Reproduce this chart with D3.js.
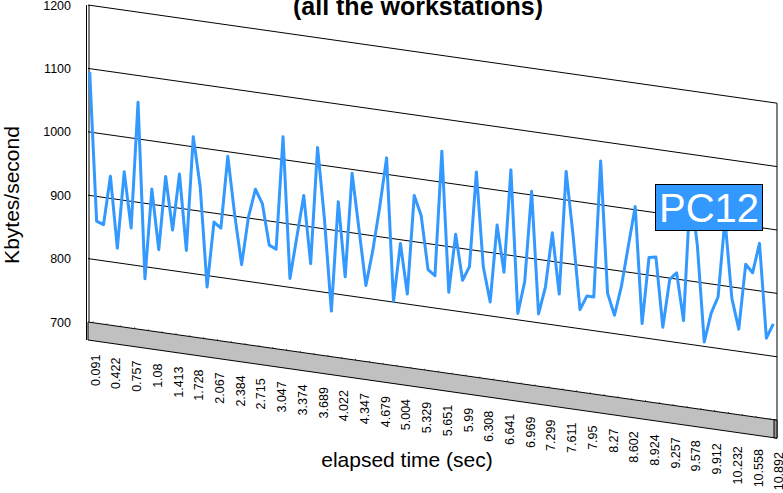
<!DOCTYPE html>
<html lang="en">
  <head>
    <meta charset="utf-8">
    <title>PC12 - Kbytes/second</title>
    <script src="https://d3js.org/d3.v7.min.js"></script>
    <style>
      body { margin: 0; background: #fff; }
      svg { display: block; font-family: Arial, "Liberation Sans", sans-serif; }
    </style>
  </head>
  <body>
    <div id="here"></div>
    <script>
      // Kbytes/second for every sample
      var kbytes = [1095, 861, 857, 935, 823, 945, 858, 1058, 781, 924,
                    830, 947, 864, 954, 835, 1016, 939, 782, 886, 878,
                    993, 902, 825, 902, 947, 926, 862, 857, 1036, 814,
                    881, 948, 842, 1027, 915, 772, 946, 829, 994, 907,
                    820, 877, 947, 1026, 801, 894, 816, 973, 943, 859,
                    851, 1049, 828, 921, 850, 873, 1024, 876, 822, 945,
                    872, 1035, 810, 862, 1006, 814, 858, 945, 850, 1045,
                    946, 830, 853, 853, 1069, 862, 829, 876, 941, 1005,
                    822, 928, 930, 821, 898, 910, 836, 1045, 958, 807,
                    854, 881, 1005, 882, 835, 939, 927, 975, 827, 851];

      // elapsed time labels, one every 3 samples
      var timeLabels = ["0.091", "0.422", "0.757", "1.08", "1.413", "1.728", "2.067", "2.384",
                        "2.715", "3.047", "3.374", "3.689", "4.022", "4.347", "4.679", "5.004",
                        "5.329", "5.651", "5.99", "6.308", "6.641", "6.969", "7.299", "7.611",
                        "7.95", "8.27", "8.602", "8.924", "9.257", "9.578", "9.912", "10.232",
                        "10.558", "10.892"];
      var labelEvery = 3;

      var yTicks = [700, 800, 900, 1000, 1100, 1200];
      var seriesName = "PC12";

      var w = 783, h = 493;
      var wallLeft = 88, wallRight = 777;   // back wall edges
      var skew = 0.1425;                    // 3d slope of the back wall
      var floorDepth = 18;
      var blue = "#3399ff";

      var x = d3.scaleLinear().domain([0, kbytes.length - 1]).range([89.7, 773.3]);
      var y = d3.scaleLinear().domain([700, 1200]).range([322, 5]);

      function drop(px) { return skew * (px - wallLeft); }
      function py(v, px) { return y(v) + drop(px); }

      var svg = d3.select("#here")
        .append("svg")
        .attr("width", w)
        .attr("height", h);

      // floor
      var fb = y(700);
      svg.append("polygon")
        .attr("points", [
          [wallLeft, fb], [wallRight, fb + drop(wallRight)],
          [wallRight, fb + drop(wallRight) + floorDepth], [wallLeft, fb + floorDepth]
        ].join(" "))
        .attr("fill", "#c0c0c0")
        .attr("stroke", "#000")
        .attr("stroke-width", 1);

      svg.append("polygon")
        .attr("points", [
          [wallRight - 3, fb + drop(wallRight - 3)], [wallRight, fb + drop(wallRight)],
          [wallRight, fb + drop(wallRight) + floorDepth], [wallRight - 3, fb + drop(wallRight - 3) + floorDepth]
        ].join(" "))
        .attr("fill", "#999")
        .attr("stroke", "#000")
        .attr("stroke-width", 1);

      // little tick marks on the floor edge
      svg.append("g")
        .selectAll("line")
        .data(d3.range(0, kbytes.length, 2))
        .enter()
        .append("line")
        .attr("x1", function(i) { return x(i + 0.5); })
        .attr("x2", function(i) { return x(i + 0.5); })
        .attr("y1", function(i) { return fb + drop(x(i + 0.5)) - 1.2; })
        .attr("y2", function(i) { return fb + drop(x(i + 0.5)); })
        .attr("stroke", "#333")
        .attr("stroke-width", 1);

      // gridlines on the back wall
      svg.append("g")
        .selectAll("line")
        .data(yTicks.slice(1))
        .enter()
        .append("line")
        .attr("x1", wallLeft)
        .attr("y1", function(d) { return y(d); })
        .attr("x2", wallRight)
        .attr("y2", function(d) { return y(d) + drop(wallRight); })
        .attr("stroke", "#000")
        .attr("stroke-width", 1);

      // wall edges
      svg.append("line")
        .attr("x1", 86.5).attr("y1", y(1200))
        .attr("x2", 86.5).attr("y2", fb + floorDepth)
        .attr("stroke", "#000");
      svg.append("line")
        .attr("x1", 89).attr("y1", y(1200))
        .attr("x2", 89).attr("y2", fb)
        .attr("stroke", "#000");
      svg.append("line")
        .attr("x1", wallRight).attr("y1", y(1200) + drop(wallRight))
        .attr("x2", wallRight).attr("y2", fb + drop(wallRight))
        .attr("stroke", "#000");

      // y axis labels
      svg.append("g")
        .selectAll("text")
        .data(yTicks)
        .enter()
        .append("text")
        .attr("x", 71)
        .attr("y", function(d) { return y(d) + 4.5; })
        .attr("text-anchor", "end")
        .attr("font-size", 12.5)
        .text(function(d) { return d; });

      // x axis labels
      svg.append("g")
        .selectAll("text")
        .data(timeLabels)
        .enter()
        .append("text")
        .attr("transform", function(d, k) {
          var lx = x(k * labelEvery) + 10;
          var ly = fb + floorDepth + drop(lx) + 13;
          return "translate(" + lx + "," + ly + ") rotate(-90)";
        })
        .attr("text-anchor", "end")
        .attr("font-size", 12.5)
        .text(function(d) { return d; });

      // the series
      var line = d3.line()
        .x(function(d, i) { return x(i); })
        .y(function(d, i) { return py(d, x(i)); });

      svg.append("path")
        .datum(kbytes)
        .attr("d", line)
        .attr("fill", "none")
        .attr("stroke", blue)
        .attr("stroke-width", 3)
        .attr("stroke-linejoin", "round");

      // series label box
      svg.append("rect")
        .attr("x", 655.5).attr("y", 184.5)
        .attr("width", 107).attr("height", 46)
        .attr("fill", blue)
        .attr("stroke", "#000")
        .attr("stroke-width", 1);
      svg.append("text")
        .attr("x", 709).attr("y", 222)
        .attr("text-anchor", "middle")
        .attr("font-size", 40)
        .attr("fill", "#fff")
        .text(seriesName);

      // titles
      svg.append("text")
        .attr("x", 418).attr("y", 15)
        .attr("text-anchor", "middle")
        .attr("font-size", 25)
        .attr("font-weight", "bold")
        .text("(all the workstations)");

      svg.append("text")
        .attr("transform", "translate(19,195) rotate(-90)")
        .attr("text-anchor", "middle")
        .attr("font-size", 21)
        .text("Kbytes/second");

      svg.append("text")
        .attr("x", 407).attr("y", 467)
        .attr("text-anchor", "middle")
        .attr("font-size", 21)
        .text("elapsed time (sec)");
    </script>
  </body>
</html>
